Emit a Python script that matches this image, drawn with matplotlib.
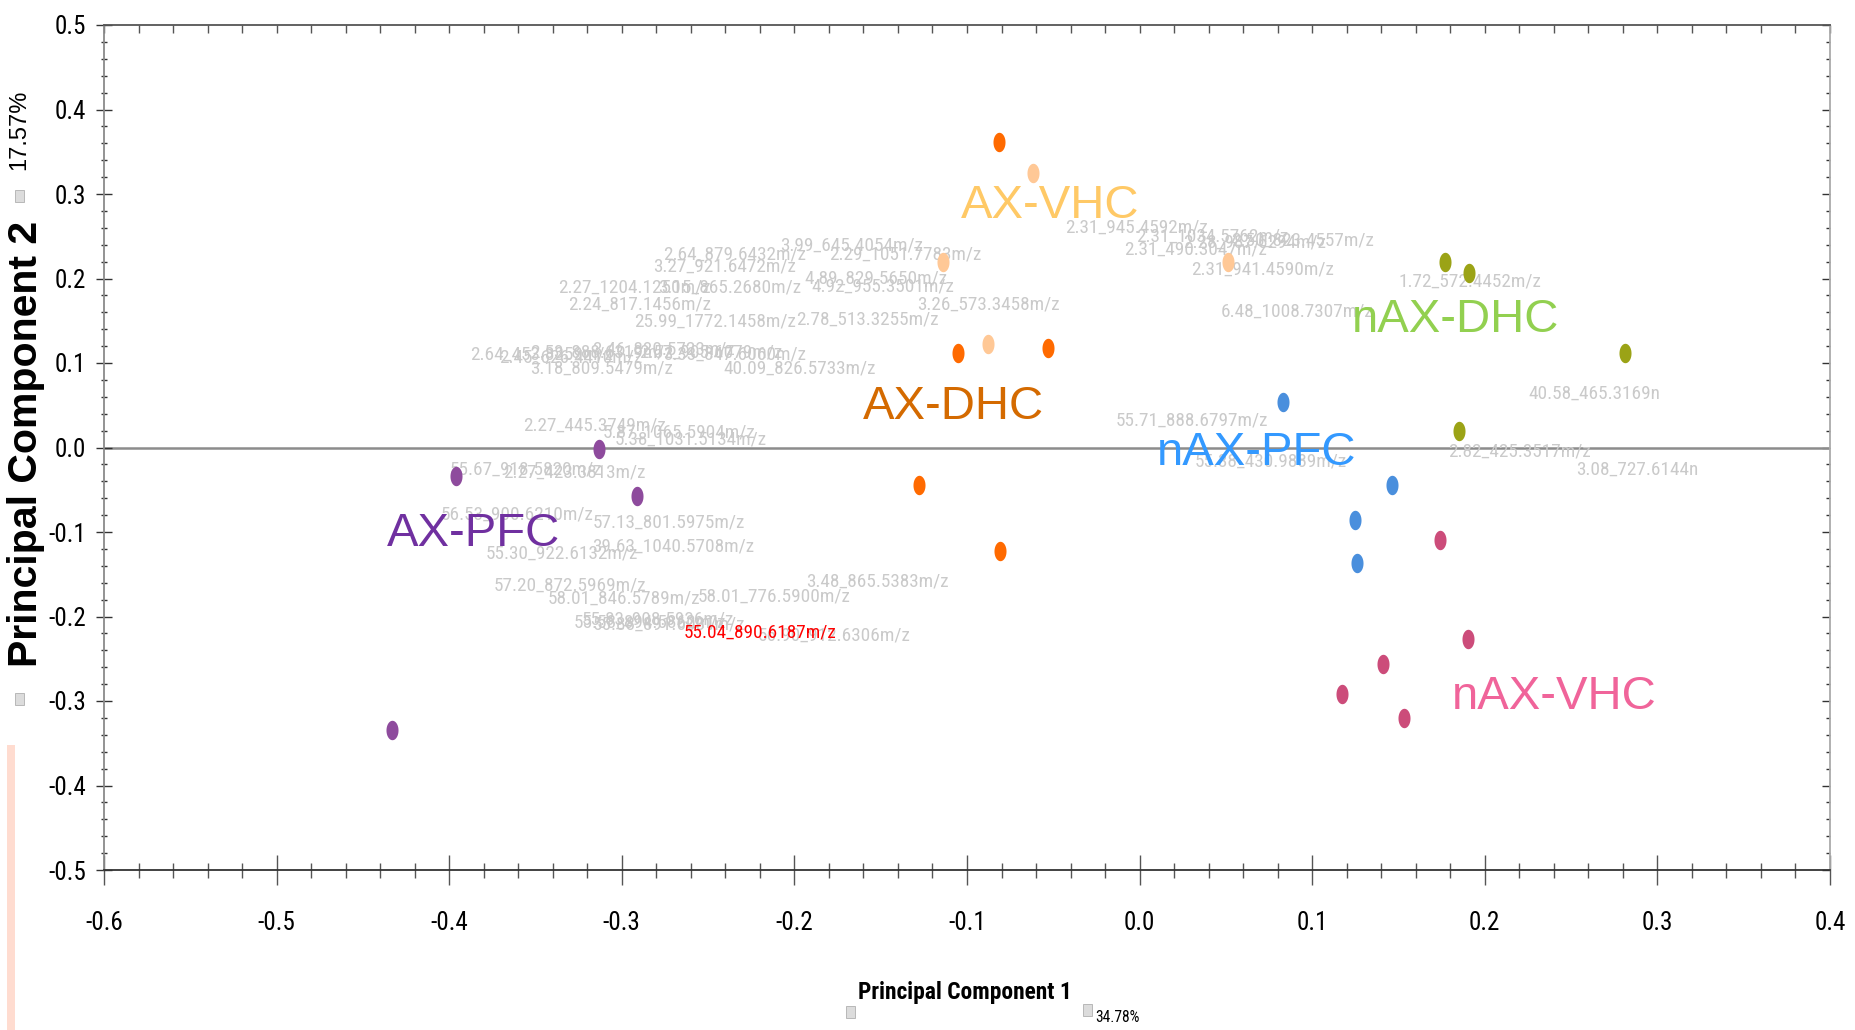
import matplotlib
matplotlib.use("Agg")
import matplotlib.pyplot as plt
import numpy as np
from matplotlib.path import Path
from matplotlib.patches import Rectangle
from matplotlib import font_manager as fm
from matplotlib.font_manager import FontProperties


def find_narrow(bold):
    best = None
    for f in fm.fontManager.ttflist:
        fn = f.fname.split('/')[-1].lower()
        is_narrow = ('narrow' in fn or 'condensed' in fn or 'narrow' in f.name.lower()
                     or 'condensed' in f.name.lower())
        if not is_narrow or f.style != 'normal':
            continue
        w = f.weight if isinstance(f.weight, int) else (700 if 'bold' in str(f.weight) else 400)
        if bold != (w >= 600):
            continue
        if 'semi' in fn or 'light' in fn or 'oblique' in fn or 'italic' in fn or 'extra' in fn:
            continue
        rank = 0 if 'liberation' in fn else (1 if 'roboto' in fn else (2 if 'opensans' in fn or 'open' in fn else 3))
        if best is None or rank < best[0]:
            best = (rank, f.fname)
    return best


reg = find_narrow(False)
bld = find_narrow(True)
if reg is not None:
    NARROW = FontProperties(fname=reg[1])
    NARROW_RANK = reg[0]
else:
    NARROW = FontProperties(family="DejaVu Sans")
    NARROW_RANK = 9
NARROW_B = FontProperties(fname=bld[1]) if bld is not None else FontProperties(family="DejaVu Sans", weight="bold")

# size scale depending on the font found
S = 1.0 if NARROW_RANK == 0 else (0.93 if NARROW_RANK in (1, 2) else 0.85)
if NARROW_RANK == 9:
    S = 0.78

# ---------------- data ----------------
groups = ["AX-VHC", "AX-DHC", "AX-PFC", "nAX-DHC", "nAX-PFC", "nAX-VHC"]
point_colors = ["#FFC896", "#FF6A00", "#8E4B9D", "#9BA316", "#4A8FDD", "#CC4C7A"]
text_colors = ["#FFC966", "#D46A00", "#7030A0", "#92D050", "#3399FF", "#F0649A"]

ax_vhc_x = [-0.062, -0.114, -0.088, 0.051]
ax_vhc_y = [0.325, 0.220, 0.123, 0.220]
ax_dhc_x = [-0.0815, -0.105, -0.053, -0.128, -0.081]
ax_dhc_y = [0.361, 0.112, 0.118, -0.044, -0.123]
ax_pfc_x = [-0.396, -0.313, -0.291, -0.433]
ax_pfc_y = [-0.034, -0.002, -0.057, -0.334]
nax_dhc_x = [0.177, 0.191, 0.281, 0.185]
nax_dhc_y = [0.220, 0.207, 0.112, 0.019]
nax_pfc_x = [0.083, 0.146, 0.125, 0.126]
nax_pfc_y = [0.054, -0.044, -0.086, -0.137]
nax_vhc_x = [0.174, 0.190, 0.141, 0.117, 0.153]
nax_vhc_y = [-0.109, -0.227, -0.256, -0.292, -0.320]

group_label_x = [-0.052, -0.108, -0.386, 0.183, 0.068, 0.240]
group_label_y = [0.286, 0.048, -0.102, 0.151, -0.007, -0.295]

loading_labels = [
    "3.99_645.4054m/z", "2.64_879.6432m/z", "2.29_1051.7783m/z", "3.27_921.6472m/z",
    "2.27_1204.1250m/z", "2.24_817.1456m/z", "3.15_865.2680m/z", "4.89_829.5650m/z",
    "4.92_955.3501m/z", "25.99_1772.1458m/z", "2.78_513.3255m/z", "3.26_573.3458m/z",
    "2.64_453.8259m/z", "2.45_626.4410m/z", "2.53_888.6319m/z", "3.46_830.5723m/z",
    "2.57_905.6079m/z", "3.33_847.6060m/z", "3.18_809.5479m/z", "40.09_826.5733m/z",
    "2.27_445.3749m/z", "5.87_1065.5904m/z", "5.38_1031.5134m/z", "55.67_918.5820m/z",
    "2.27_423.3813m/z", "56.53_900.6210m/z", "57.13_801.5975m/z", "55.30_922.6132m/z",
    "39.63_1040.5708m/z", "57.20_872.5969m/z", "58.01_846.5789m/z", "58.01_776.5900m/z",
    "3.48_865.5383m/z", "55.58_894.5862m/z", "55.83_908.5936m/z", "55.88_891.6031m/z",
    "56.90_912.6306m/z", "2.31_945.4592m/z", "2.31_490.3047m/z", "2.31_1034.5762m/z",
    "2.28_987.6294m/z", "2.50_823.4557m/z", "2.31_941.4590m/z", "6.48_1008.7307m/z",
    "1.72_572.4452m/z", "40.58_465.3169n", "55.71_888.6797m/z", "55.38_430.9889m/z",
    "2.82_425.3517m/z", "3.08_727.6144n",
]
loading_x = [
    -0.208, -0.276, -0.180, -0.282,
    -0.337, -0.331, -0.279, -0.194,
    -0.190, -0.293, -0.199, -0.129,
    -0.388, -0.371, -0.353, -0.317,
    -0.290, -0.276, -0.353, -0.241,
    -0.357, -0.311, -0.304, -0.400,
    -0.369, -0.405, -0.317, -0.379,
    -0.317, -0.374, -0.343, -0.256,
    -0.193, -0.328, -0.323, -0.317,
    -0.221, -0.043, -0.009, -0.002,
    0.0255, 0.053, 0.030, 0.047,
    0.150, 0.225, -0.014, 0.032,
    0.179, 0.253,
]
loading_y = [
    0.239, 0.228, 0.228, 0.214,
    0.189, 0.169, 0.189, 0.200,
    0.191, 0.149, 0.152, 0.169,
    0.110, 0.107, 0.113, 0.116,
    0.113, 0.110, 0.093, 0.093,
    0.026, 0.018, 0.009, -0.026,
    -0.030, -0.079, -0.089, -0.126,
    -0.117, -0.163, -0.179, -0.176,
    -0.159, -0.207, -0.204, -0.210,
    -0.222, 0.260, 0.234, 0.250,
    0.243, 0.245, 0.211, 0.161,
    0.197, 0.064, 0.032, -0.016,
    -0.005, -0.026,
]
highlight_label = "55.04_890.6187m/z"
highlight_x = -0.264
highlight_y = -0.2195

x_ticks = [-0.6, -0.5, -0.4, -0.3, -0.2, -0.1, 0.0, 0.1, 0.2, 0.3, 0.4]
y_ticks = [-0.5, -0.4, -0.3, -0.2, -0.1, 0.0, 0.1, 0.2, 0.3, 0.4, 0.5]

# ---------------- figure ----------------
fig = plt.figure(figsize=(18.56, 10.30), dpi=100)
ax = fig.add_axes([104/1856, 1-870/1030, (1830-104)/1856, (870-25)/1030])
ax.set_xlim(-0.6, 0.4)
ax.set_ylim(-0.5, 0.5)

ax.axhline(0, color="#8c8c8c", lw=1.8, zorder=1)

t = np.linspace(0, 2*np.pi, 40)
ell = Path(np.column_stack([0.62*np.cos(t), np.sin(t)]))

xs = [ax_vhc_x, ax_dhc_x, ax_pfc_x, nax_dhc_x, nax_pfc_x, nax_vhc_x]
ys = [ax_vhc_y, ax_dhc_y, ax_pfc_y, nax_dhc_y, nax_pfc_y, nax_vhc_y]

lab_fp = NARROW.copy()
lab_fp.set_size(14.9 * S)
for lab, lx, ly in zip(loading_labels, loading_x, loading_y):
    ax.text(lx, ly, lab, color="#CACACA", fontproperties=lab_fp,
            ha="left", va="center", zorder=2)
ax.text(highlight_x, highlight_y, highlight_label, color="#FF0000",
        fontproperties=lab_fp, ha="left", va="center", zorder=3)

for x, y, c in zip(xs, ys, point_colors):
    ax.plot(x, y, linestyle="none", marker=ell, markersize=14, color=c,
            markeredgewidth=0, zorder=4)

for g, gx, gy, c in zip(groups, group_label_x, group_label_y, text_colors):
    ax.text(gx, gy, g, color=c, fontsize=34, family="Liberation Sans",
            ha="center", va="center", zorder=5)

# spines
ax.spines["left"].set_color("#8a8a8a")
ax.spines["bottom"].set_color("#333333")
ax.spines["top"].set_color("#555555")
ax.spines["right"].set_color("#aaaaaa")
for s in ax.spines.values():
    s.set_linewidth(1.3)

tick_fp = NARROW.copy()
tick_fp.set_size(19.5 * S)
ax.set_xticks(x_ticks)
ax.set_yticks(y_ticks)
ax.set_xticklabels([f"{v:.1f}" for v in x_ticks], fontproperties=tick_fp)
ax.set_yticklabels([f"{v:.1f}" for v in y_ticks], fontproperties=tick_fp)
ax.xaxis.set_minor_locator(matplotlib.ticker.MultipleLocator(0.02))
ax.yaxis.set_minor_locator(matplotlib.ticker.MultipleLocator(0.02))
ax.tick_params(axis="x", which="major", direction="inout", length=21.6, width=1.0,
               color="#555555", pad=19)
ax.tick_params(axis="x", which="minor", direction="inout", length=10.8, width=1.0,
               color="#555555")
ax.tick_params(axis="y", which="major", direction="inout", length=11.5, width=1.0,
               color="#333333", pad=7)
ax.tick_params(axis="y", which="minor", direction="inout", length=5, width=1.0,
               color="#333333")

sx = ax.secondary_xaxis("top")
sx.set_xticks([])
sx.xaxis.set_minor_locator(matplotlib.ticker.MultipleLocator(0.02))
sx.tick_params(which="minor", direction="in", length=6, width=1.0, color="#555555")
sx.spines["top"].set_visible(False)
sy = ax.secondary_yaxis("right")
sy.set_yticks(y_ticks)
sy.set_yticklabels([])
sy.yaxis.set_minor_locator(matplotlib.ticker.MultipleLocator(0.02))
sy.tick_params(which="major", direction="in", length=6, width=1.0, color="#333333")
sy.tick_params(which="minor", direction="in", length=3, width=1.0, color="#333333")
sy.spines["right"].set_visible(False)

# axis titles
xl_fp = NARROW_B.copy()
xl_fp.set_size(18.2 * S)
fig.text(965/1856, 1-992/1030, "Principal Component 1", fontproperties=xl_fp,
         ha="center", va="center")
pc_fp = NARROW.copy()
pc_fp.set_size(12 * S)
fig.text(1095/1856, 1-1018/1030, "34.78%", fontproperties=pc_fp,
         ha="left", va="center")
fig.text(26/1856, 1-444/1030, "Principal Component 2", family="Liberation Sans",
         fontweight="bold", fontsize=29.5, rotation=90, ha="center", va="center")
fig.text(19/1856, 1-130/1030, "17.57%", family="Liberation Sans", fontsize=17,
         rotation=90, ha="center", va="center")

for (px, py) in [(846, 1006), (1083, 1004), (15, 190), (15, 693)]:
    fig.patches.append(Rectangle((px/1856, 1-(py+12)/1030), 9/1856, 12/1030,
                                 transform=fig.transFigure, facecolor="#dcdcdc",
                                 edgecolor="#b0b0b0", lw=0.6))

fig.patches.append(Rectangle((7/1856, 0), 8/1856, (1030-745)/1030,
                             transform=fig.transFigure, facecolor="#FFDCD0",
                             edgecolor="none"))

fig.savefig("out.png", dpi=100)
